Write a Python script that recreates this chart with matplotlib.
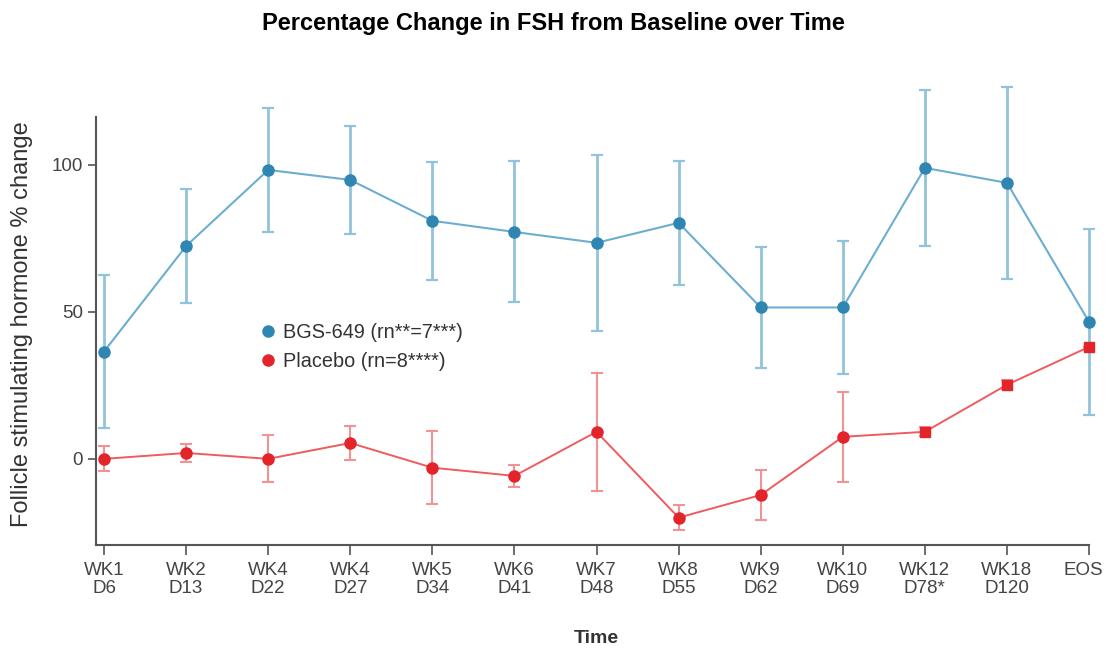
import numpy as np
import matplotlib
matplotlib.use("Agg")
import matplotlib.pyplot as plt
import matplotlib.transforms as mtransforms

plt.rcParams['font.family'] = ['Liberation Sans', 'DejaVu Sans']

# data
visits = ['WK1\nD6', 'WK2\nD13', 'WK4\nD22', 'WK4\nD27', 'WK5\nD34', 'WK6\nD41',
          'WK7\nD48', 'WK8\nD55', 'WK9\nD62', 'WK10\nD69', 'WK12\nD78*', 'WK18\nD120', 'EOS']
bgs_mean = [36.5, 72.4, 98.3, 94.9, 81.0, 77.2, 73.5, 80.3, 51.5, 51.5, 99.0, 93.9, 46.6]
bgs_err = [26.0, 19.5, 21.0, 18.5, 20.0, 24.0, 30.0, 21.0, 20.5, 22.5, 26.5, 32.7, 31.6]
pbo_mean = [0.0, 2.0, 0.0, 5.4, -3.0, -5.8, 9.2, -20.0, -12.3, 7.5, 9.2, 25.2, 38.1]
pbo_err = [4.3, 3.0, 8.0, 5.8, 12.5, 3.7, 20.0, 4.3, 8.5, 15.3, 1.5, 1.5, 0.0]

x = np.arange(len(visits))
sq = 10  # placebo points from here on are drawn as squares

blue_m, blue_l, blue_e = '#2f86b2', '#6caed0', '#92c3dc'
red_m, red_l, red_e = '#e3242b', '#ef5b5e', '#f19294'
grey = '#555555'

fig = plt.figure(figsize=(11.06, 6.48), dpi=100)
ax = fig.add_axes([0.0868, 0.159, 0.9042, 0.6604])

ax.errorbar(x, bgs_mean, yerr=bgs_err, fmt='none', ecolor=blue_e, elinewidth=2,
            capsize=4.5, capthick=1.6, clip_on=False, zorder=2)
ax.plot(x, bgs_mean, color=blue_l, lw=1.5, zorder=3)
ax.plot(x, bgs_mean, 'o', color=blue_m, ms=8, zorder=4, clip_on=False)

ax.errorbar(x, pbo_mean, yerr=pbo_err, fmt='none', ecolor=red_e, elinewidth=1.5,
            capsize=4.5, capthick=1.5, clip_on=False, zorder=2)
ax.plot(x, pbo_mean, color=red_l, lw=1.4, zorder=3)
ax.plot(x[:sq], pbo_mean[:sq], 'o', color=red_m, ms=8, zorder=4)
ax.plot(x[sq:], pbo_mean[sq:], 's', color=red_m, ms=7, zorder=4, clip_on=False)

# legend handles
ax.plot([], [], 'o', color=blue_m, ms=8, label='BGS-649 (rn**=7***)')
ax.plot([], [], 'o', color=red_m, ms=8, label='Placebo (rn=8****)')
handles, labels = ax.get_legend_handles_labels()
ax.legend(handles[-2:], labels[-2:], loc='upper left', bbox_to_anchor=(0.142, 0.56),
          frameon=False, fontsize=14.3, handletextpad=0.15, handlelength=1.2,
          labelspacing=0.5, labelcolor='#333333')

ax.set_xlim(-0.0975, 12.085)
ax.set_ylim(-29.3, 116.3)
ax.set_xticks(x)
ax.set_xticklabels(visits, fontsize=13.5, color='#444444', linespacing=1.1)
ax.set_yticks([0, 50, 100])
ax.tick_params(axis='y', labelsize=13.5, labelcolor='#444444', color=grey, width=1.2, length=6)
ax.tick_params(axis='x', color=grey, width=1.2, length=7, pad=5)

# keep the last label inside the figure
last = ax.get_xticklabels()[-1]
last.set_transform(last.get_transform() +
                   mtransforms.ScaledTranslation(-6 / 100, 0, fig.dpi_scale_trans))

for s in ['top', 'right']:
    ax.spines[s].set_visible(False)
for s in ['left', 'bottom']:
    ax.spines[s].set_color(grey)
    ax.spines[s].set_linewidth(1.5)
ax.spines['bottom'].set_bounds(-0.0975, 12)

ax.set_ylabel('Follicle stimulating hormone % change', fontsize=17, color='#333333')
ax.yaxis.set_label_coords(-0.063, 0.516)
ax.set_xlabel('Time', fontsize=14, fontweight='bold', color='#333333', labelpad=24)
fig.suptitle('Percentage Change in FSH from Baseline over Time', fontsize=17,
             fontweight='bold', y=0.982)

fig.savefig('out.png', dpi=100)
